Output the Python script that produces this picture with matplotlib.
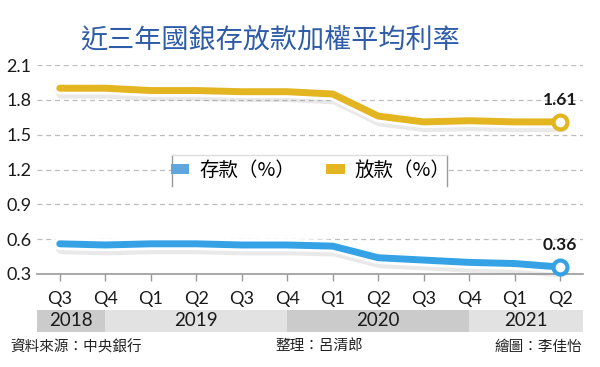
import matplotlib
matplotlib.use("Agg")
import matplotlib.pyplot as plt
import matplotlib.patheffects as pe
from matplotlib.patches import Rectangle
from matplotlib.lines import Line2D

plt.rcParams['font.family'] = ['Lato', 'Noto Sans CJK TC', 'DejaVu Sans']

quarters = ['Q3', 'Q4', 'Q1', 'Q2', 'Q3', 'Q4', 'Q1', 'Q2', 'Q3', 'Q4', 'Q1', 'Q2']
years = ['2018', '2019', '2020', '2021']
year_bounds = [(-0.5, 1), (1, 5), (5, 9), (9, 11.5)]
deposit = [0.56, 0.55, 0.56, 0.56, 0.55, 0.55, 0.54, 0.44, 0.42, 0.40, 0.39, 0.36]
loan = [1.90, 1.90, 1.88, 1.88, 1.87, 1.87, 1.85, 1.66, 1.61, 1.62, 1.61, 1.61]
yticks = [0.3, 0.6, 0.9, 1.2, 1.5, 1.8, 2.1]

W, H = 600, 367
fig = plt.figure(figsize=(6, 3.67), dpi=100)
ax = fig.add_axes([37 / W, 1 - 274 / H, (583 - 37) / W, (274 - 65) / H])
ax.set_xlim(-0.5, 11.5)
ax.set_ylim(0.3, 2.1)

x = list(range(len(quarters)))
c_dep = '#35A2E6'
c_loan = '#E3B520'

for yv in yticks[1:]:
    ax.axhline(yv, color='#bdbdbd', lw=0.9, ls=(0, (4, 3)), zorder=1)

effects = [pe.SimpleLineShadow(offset=(1.5, -3), shadow_color='#888888', alpha=0.18, linewidth=9),
           pe.Stroke(linewidth=9, foreground='white'), pe.Normal()]
for vals, col in [(deposit, c_dep), (loan, c_loan)]:
    ax.plot(x, vals, color=col, lw=5, solid_capstyle='round', solid_joinstyle='round',
            path_effects=effects, zorder=4, clip_on=False)
    ax.plot(x[-1], vals[-1], 'o', ms=10, mfc='white', mec=col, mew=3, zorder=6, clip_on=False)
    ax.annotate(f'{vals[-1]:.2f}', (x[-1], vals[-1]), xytext=(0, 10), textcoords='offset points',
                ha='center', va='bottom', fontsize=12.5, fontweight='bold', color='#1a1a1a')

for s in ['top', 'right', 'left']:
    ax.spines[s].set_visible(False)
ax.spines['bottom'].set_color('#999999')
ax.spines['bottom'].set_linewidth(1.2)
ax.set_xticks(x)
ax.set_xticklabels(quarters, fontsize=13, color='#1a1a1a')
ax.tick_params(axis='x', length=5, width=1, color='#999999', pad=7)
ax.set_yticks(yticks)
ax.set_yticklabels([f'{v:.1f}' for v in yticks], fontsize=13, color='#1a1a1a')
ax.tick_params(axis='y', length=0, pad=4)

# year bands
band_colors = ['#cbcbcb', '#e2e2e2', '#cbcbcb', '#e2e2e2']
b_top, b_h = -36 / 209, 22 / 209
for yr, (a, b), bc in zip(years, year_bounds, band_colors):
    ax.add_patch(Rectangle((a, b_top - b_h), b - a, b_h, transform=ax.get_xaxis_transform(),
                           facecolor=bc, edgecolor='none', clip_on=False, zorder=0))
    ax.text((a + b) / 2, b_top - b_h / 2, yr, transform=ax.get_xaxis_transform(),
            ha='center', va='center', fontsize=13.5, color='#1a1a1a')

# legend box
lx0, lx1, ly0, ly1 = 172 / W, 447 / W, 1 - 186 / H, 1 - 155 / H
fig.add_artist(Rectangle((lx0, ly0), lx1 - lx0, ly1 - ly0, transform=fig.transFigure,
                         facecolor='white', edgecolor='none', zorder=3))
fig.add_artist(Line2D([lx0, lx0], [ly0, ly1], transform=fig.transFigure, color='#999999', lw=1, zorder=3))
fig.add_artist(Line2D([lx1, lx1], [ly0, ly1], transform=fig.transFigure, color='#999999', lw=1, zorder=3))
fig.add_artist(Line2D([lx0, lx1], [ly1, ly1], transform=fig.transFigure, color='#dddddd', lw=1, zorder=3))
handles = [Rectangle((0, 0), 1, 1, facecolor='#5FA6DE', edgecolor='none'),
           Rectangle((0, 0), 1, 1, facecolor=c_loan, edgecolor='none')]
leg = fig.legend(handles, ['存款（%）', '放款（%）'], ncol=2, loc='center',
                 bbox_to_anchor=((lx0 + lx1) / 2 + 1 / W, (ly0 + ly1) / 2), frameon=False,
                 prop={'family': ['Noto Sans CJK TC'], 'size': 14},
                 handlelength=0.95, handleheight=0.4, handletextpad=0.5, columnspacing=1.6)
leg.set_zorder(5)

# title
fig.text(270 / W, 1 - 40 / H, '近三年國銀存放款加權平均利率', ha='center', va='center',
         fontsize=19.5, fontweight='medium', color='#2E5CA8', family=['Noto Sans CJK TC'])

# footer
foot = dict(fontsize=10.5, color='#222222', va='center', family=['Noto Sans CJK TC'])
fig.text(10 / W, 1 - 347 / H, '資料來源：中央銀行', ha='left', **foot)
fig.text(275 / W, 1 - 347 / H, '整理：呂清郎', ha='left', **foot)
fig.text(582 / W, 1 - 347 / H, '繪圖：李佳怡', ha='right', **foot)

fig.savefig('out.png', dpi=100, facecolor='white')
